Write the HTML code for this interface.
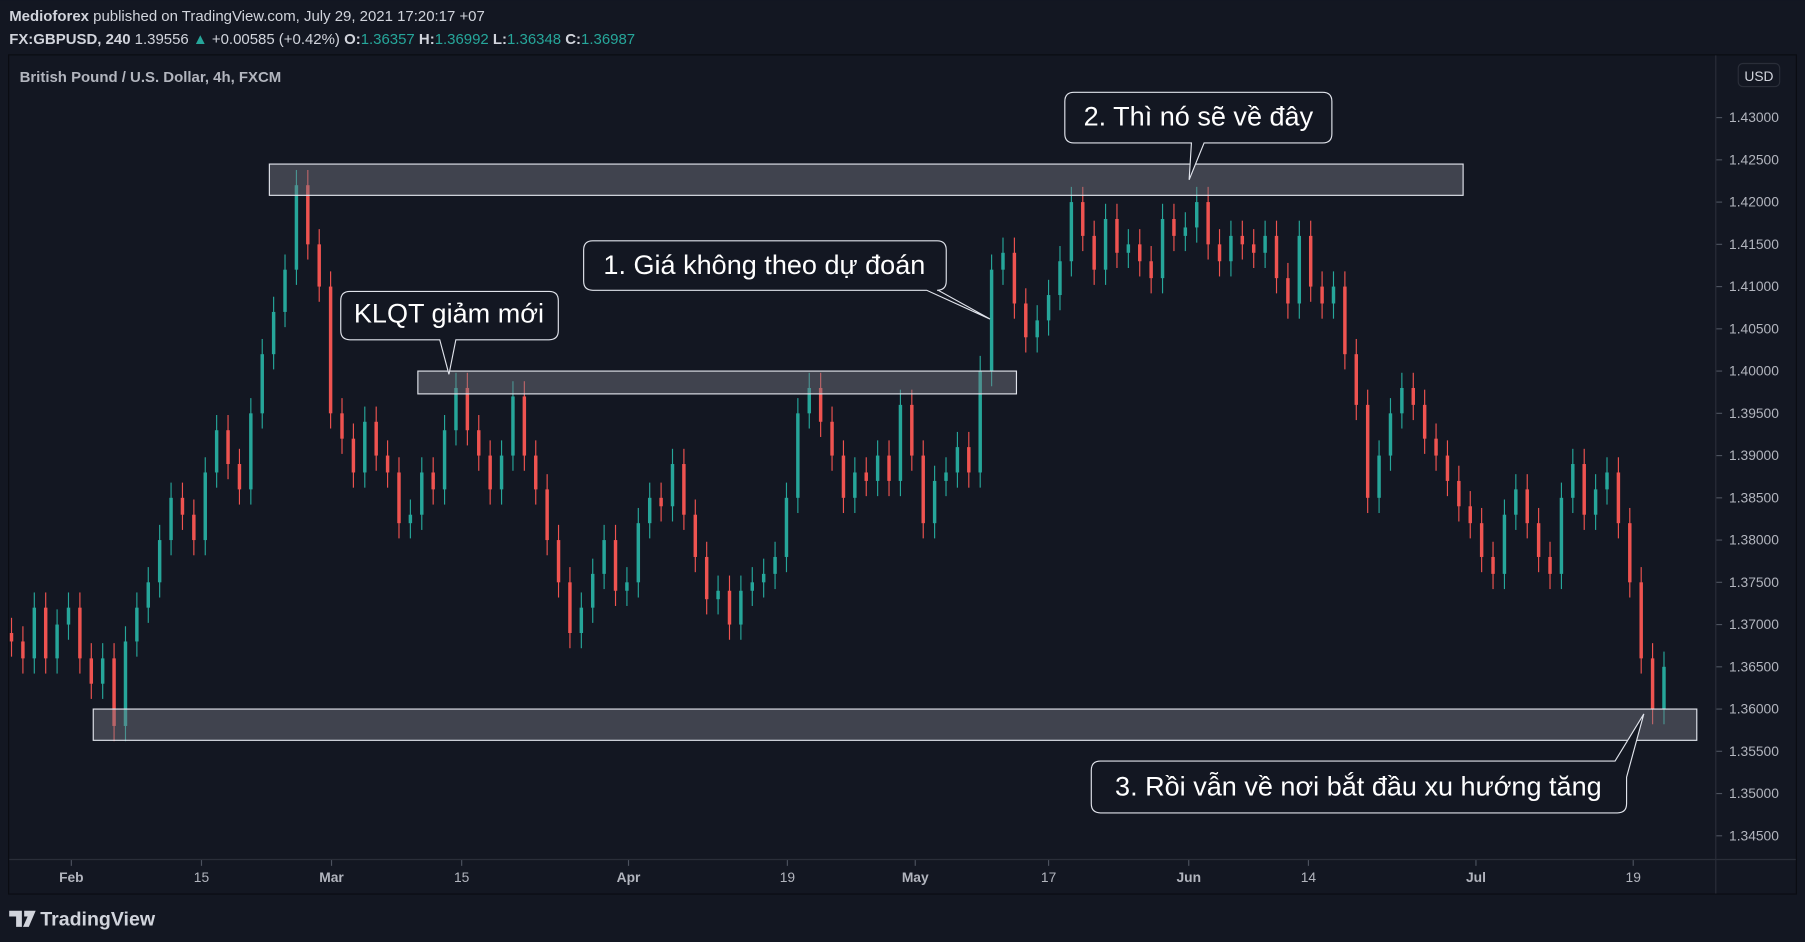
<!DOCTYPE html>
<html><head><meta charset="utf-8"><style>
html,body{margin:0;padding:0;background:#131722;overflow:hidden}
svg{display:block}
text{font-family:"Liberation Sans","Noto Sans CJK SC",sans-serif}
</style></head><body>
<svg id="chart" width="1805" height="942" viewBox="0 0 1568 818" xmlns="http://www.w3.org/2000/svg">
<rect width="1568" height="818" fill="#131722"/>
<text x="8" y="18" font-size="13" fill="#d1d4dc"><tspan font-weight="bold">Medioforex</tspan> published on TradingView.com, July 29, 2021 17:20:17 +07</text>
<text x="8" y="38" font-size="13" fill="#d1d4dc"><tspan font-weight="bold">FX:GBPUSD, 240</tspan> 1.39556 <tspan fill="#26a69a">▲</tspan> +0.00585 (+0.42%) <tspan font-weight="bold">O:</tspan><tspan fill="#26a69a">1.36357</tspan> <tspan font-weight="bold">H:</tspan><tspan fill="#26a69a">1.36992</tspan> <tspan font-weight="bold">L:</tspan><tspan fill="#26a69a">1.36348</tspan> <tspan font-weight="bold">C:</tspan><tspan fill="#26a69a">1.36987</tspan></text>
<rect x="7.5" y="47.5" width="1553" height="729" fill="none" stroke="#0a0c12"/>
<line x1="1490.5" y1="48" x2="1490.5" y2="776" stroke="#2a2e39"/>
<line x1="8" y1="746.5" x2="1560" y2="746.5" stroke="#2a2e39"/>
<text x="17" y="71" font-size="13" fill="#b2b5be" font-weight="bold">British Pound / U.S. Dollar, 4h, FXCM</text>
<g id="yaxis"></g>
<g id="xaxis"></g>
<g id="candles"></g>
<g id="zones"></g>
<g><rect x="1510" y="55" width="36" height="20" rx="4" fill="#131722" stroke="#2a2e39"/><text x="1528" y="70" font-size="12" fill="#d1d4dc" text-anchor="middle">USD</text></g>
<g>
<path d="M515,209 H814 Q822,209 822,217 V244 Q822,252 814,252 H815 L860,277 L805,252 H515 Q507,252 507,244 V217 Q507,209 515,209 Z" fill="#131722" stroke="#e0e3eb"/>
<text x="664" y="238" font-size="23.5" fill="#ffffff" text-anchor="middle">1. Giá không theo dự đoán</text></g>
<g>
<path d="M933,80 H1149 Q1157,80 1157,88 V116 Q1157,124 1149,124 H1046 L1033,156 L1035,124 H933 Q925,124 925,116 V88 Q925,80 933,80 Z" fill="#131722" stroke="#e0e3eb"/>
<text x="1041" y="109" font-size="23.5" fill="#ffffff" text-anchor="middle">2. Thì nó sẽ về đây</text></g>
<g>
<path d="M304,253 H477 Q485,253 485,261 V287 Q485,295 477,295 H396 L390,325 L382,295 H304 Q296,295 296,287 V261 Q296,253 304,253 Z" fill="#131722" stroke="#e0e3eb"/>
<text x="390" y="280" font-size="23.5" fill="#ffffff" text-anchor="middle">KLQT giảm mới</text></g>
<g>
<path d="M956,661 H1403 L1428,620 L1413,675 V698 Q1413,706 1405,706 H956 Q948,706 948,698 V669 Q948,661 956,661 Z" fill="#131722" stroke="#e0e3eb"/>
<text x="1180" y="691" font-size="23.5" fill="#ffffff" text-anchor="middle">3. Rồi vẫn về nơi bắt đầu xu hướng tăng</text></g>
<g>
<path d="M8,791 H19 V805 H14 V796 H8 Z M21,791 H31 L25,805 H20 L24,796 H21 Z" fill="#d1d4dc"/>
<text x="35" y="804" font-size="17" fill="#d1d4dc" font-weight="bold">TradingView</text></g>
</svg>
<script>
const closes=[1.368,1.366,1.372,1.366,1.370,1.372,1.366,1.363,1.366,1.358,1.368,1.372,1.375,1.380,1.385,1.383,1.380,1.388,1.393,1.389,1.386,1.395,1.402,1.407,1.412,1.422,1.415,1.410,1.395,1.392,1.388,1.394,1.390,1.388,1.382,1.383,1.388,1.386,1.393,1.398,1.393,1.390,1.386,1.390,1.397,1.390,1.386,1.380,1.375,1.369,1.372,1.376,1.380,1.374,1.375,1.382,1.385,1.384,1.389,1.383,1.378,1.373,1.374,1.370,1.374,1.375,1.376,1.378,1.385,1.395,1.398,1.394,1.390,1.385,1.388,1.387,1.390,1.387,1.396,1.390,1.382,1.387,1.388,1.391,1.388,1.400,1.412,1.414,1.408,1.404,1.406,1.409,1.413,1.420,1.416,1.412,1.418,1.414,1.415,1.413,1.411,1.418,1.416,1.417,1.420,1.415,1.413,1.416,1.415,1.414,1.416,1.411,1.408,1.416,1.410,1.408,1.410,1.402,1.396,1.385,1.390,1.395,1.398,1.396,1.392,1.390,1.387,1.384,1.382,1.378,1.376,1.383,1.386,1.382,1.378,1.376,1.385,1.389,1.383,1.386,1.388,1.382,1.375,1.366,1.360,1.365];
const priceTicks=[1.43,1.425,1.42,1.415,1.41,1.405,1.40,1.395,1.39,1.385,1.38,1.375,1.37,1.365,1.36,1.355,1.35,1.345];
const timeLabels=["Feb","15","Mar","15","Apr","19","May","17","Jun","14","Jul","19"];
const timeIdx=[5.25,16.67,28.08,39.5,54.14,68.08,79.3,91.0,103.3,113.8,128.5,142.3];
const zoneTop=[1.4245,1.4208];const zoneMid=[1.4000,1.3973];const zoneBot=[1.3600,1.3563];
const NS="http://www.w3.org/2000/svg";
const y=p=>102+(1.43-p)/0.005*36.7;
const x=i=>10+i*9.9;
function mk(tag,attrs,parent){const e=document.createElementNS(NS,tag);for(const k in attrs)e.setAttribute(k,attrs[k]);parent.appendChild(e);return e;}
const ya=document.getElementById('yaxis');
priceTicks.forEach(p=>{const t=mk('text',{x:1502,y:y(p)+4,'font-size':12,fill:'#b2b5be'},ya);t.textContent=p.toFixed(5);


mk('line',{x1:1491,x2:1496,y1:y(p),y2:y(p),stroke:'#4c525e'},ya);});
const xa=document.getElementById('xaxis');
timeLabels.forEach((l,k)=>{const xx=x(timeIdx[k]);const t=mk('text',{x:xx,y:766,'font-size':12,fill:'#b2b5be','text-anchor':'middle','font-weight':(isNaN(l)?'bold':'normal')},xa);t.textContent=l;


mk('line',{x1:xx,x2:xx,y1:747,y2:752,stroke:'#4c525e'},xa);});
const cg=document.getElementById('candles');
for(let i=0;i<closes.length;i++){const o=i?closes[i-1]:closes[0]+0.001,c=closes[i];const up=c>=o;const col=up?'#26a69a':'#ef5350';
const g=mk('g',{},cg);


mk('line',{x1:x(i),x2:x(i),y1:y(Math.max(o,c)+0.0018),y2:y(Math.min(o,c)-0.0018),stroke:col,'stroke-width':1},g);
const t=y(Math.max(o,c)),b=y(Math.min(o,c));
mk('rect',{x:x(i)-1.5,y:t,width:3,height:Math.max(1,b-t),fill:col},g);}
const zg=document.getElementById('zones');
[[zoneTop,234,1271,'zone-top'],[zoneMid,363,883,'zone-middle'],[zoneBot,81,1474,'zone-bottom']].forEach(z=>{const r=mk('rect',{x:z[1],y:y(z[0][0]),width:z[2]-z[1],height:y(z[0][1])-y(z[0][0]),fill:'rgba(120,123,134,0.45)',stroke:'#e0e3eb'},zg);

});
</script>
</body></html>
